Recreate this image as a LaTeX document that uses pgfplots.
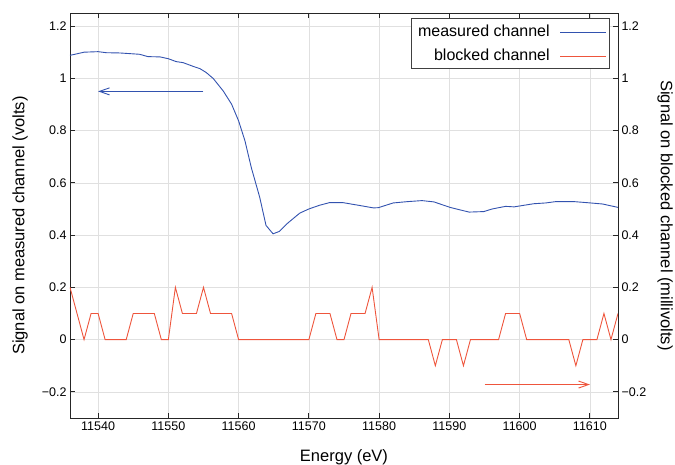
\documentclass[border=0pt]{standalone}
\usepackage{fontspec}
\setmainfont{Liberation Sans}
\usepackage{pgfplots}
\pgfplotsset{compat=1.18}
\usetikzlibrary{arrows.meta}
\definecolor{mblue}{RGB}{50,82,175}
\definecolor{bred}{RGB}{238,85,60}
\definecolor{gridc}{RGB}{224,224,224}

\begin{document}
\begin{tikzpicture}
\pgfplotsset{
 common/.style={
  scale only axis, width=548pt, height=405pt,
  xmin=11536, xmax=11614, ymin=-0.3, ymax=1.25,
  at={(0,0)}, anchor=south west,
  ytick={-0.2,0,0.2,0.4,0.6,0.8,1,1.2},
  yticklabels={−0.2,0,0.2,0.4,0.6,0.8,1,1.2},
  tick label style={font=\fontsize{12.5}{14}\selectfont},
  label style={font=\fontsize{16.5}{19}\selectfont},
  axis line style={line width=0.9pt, black!85},
  every tick/.style={line width=0.9pt, black!85},
  major tick length=5pt,
  tick align=inside,
 }
}
\path[use as bounding box] (-70pt,-47pt) rectangle (605pt,418pt);
\begin{axis}[common,
 xtick={11540,11550,11560,11570,11580,11590,11600,11610},
 xticklabels={11540,11550,11560,11570,11580,11590,11600,11610},
 xtick scale label code/.code={},
 xtick pos=both, ytick pos=left,
 grid=major, major grid style={gridc, line width=0.6pt},
 xlabel={Energy (eV)},
 ylabel={Signal on measured channel (volts)},
 xlabel style={at={(axis description cs:0.5,-0.0963)}, anchor=center},
 ylabel style={at={(axis description cs:-0.0912,0.475)}, anchor=center},
]
\addplot[draw=mblue, line width=0.9pt] coordinates {
(11536.0,1.088) (11536.7,1.092) (11538.0,1.100) (11540.0,1.102) (11541.2,1.098)
(11543.1,1.097) (11545.9,1.092) (11547.1,1.083) (11548.8,1.082) (11550.0,1.075)
(11551.1,1.064) (11552.1,1.060) (11553.5,1.046) (11554.5,1.037) (11555.4,1.022)
(11556.4,0.999) (11557.8,0.952) (11559.0,0.901) (11560.0,0.837) (11560.9,0.761)
(11561.8,0.659) (11563.0,0.545) (11563.9,0.437) (11564.9,0.405) (11565.8,0.414)
(11567.0,0.446) (11568.7,0.484) (11570.0,0.500) (11571.5,0.514) (11572.9,0.524)
(11574.9,0.524) (11577.3,0.513) (11579.2,0.504) (11579.9,0.505) (11582.0,0.523)
(11584.0,0.528) (11586.1,0.532) (11587.8,0.527) (11590.1,0.506) (11592.8,0.488)
(11594.9,0.490) (11596.1,0.500) (11598.0,0.510) (11599.2,0.508) (11600.6,0.514)
(11602.0,0.520) (11603.7,0.523) (11605.1,0.528) (11607.8,0.528) (11610.1,0.523)
(11611.8,0.519) (11614.0,0.506)
};
\addplot[draw=bred, line width=0.9pt] coordinates {
(11536,0.2) (11538,0) (11539,0.1) (11540,0.1) (11541,0) (11544,0) (11545,0.1)
(11548,0.1) (11549,0) (11550,0) (11551,0.2) (11552,0.1) (11554,0.1) (11555,0.2)
(11556,0.1) (11559,0.1) (11560,0) (11570,0) (11571,0.1) (11573,0.1) (11574,0)
(11575,0) (11576,0.1) (11578,0.1) (11579,0.2) (11580,0) (11587,0) (11588,-0.1)
(11589,0) (11591,0) (11592,-0.1) (11593,0) (11597,0) (11598,0.1) (11600,0.1)
(11601,0) (11607,0) (11608,-0.1) (11609,0) (11611,0) (11612,0.1) (11613,0)
(11614,0.1)
};
\draw[mblue, line width=0.9pt, -{Straight Barb[length=10pt,width=7pt]}] (axis cs:11555,0.95) -- (axis cs:11540,0.95);
\draw[bred, line width=0.9pt, -{Straight Barb[length=10pt,width=7pt]}] (axis cs:11595,-0.172) -- (axis cs:11610,-0.172);
\node[draw=black!75, line width=0.6pt, fill=white, inner xsep=4pt, inner ysep=7pt,
  anchor=north east, xshift=-8pt, yshift=-5pt, font=\fontsize{16}{18}\selectfont]
  (leg) at (rel axis cs:1,1)
  {\vbox{\baselineskip=24pt
   \hbox to 190pt{\hfill measured channel\hspace{56pt}}
   \hbox to 190pt{\hfill blocked channel\hspace{56pt}}}};
\draw[mblue, line width=0.9pt] ([xshift=-50pt,yshift=-14pt]leg.north east) -- ([xshift=-4pt,yshift=-14pt]leg.north east);
\draw[bred, line width=0.9pt] ([xshift=-50pt,yshift=-38pt]leg.north east) -- ([xshift=-4pt,yshift=-38pt]leg.north east);
\end{axis}
\begin{axis}[common,
 axis x line=none, axis y line*=right,
 ylabel={Signal on blocked channel (millivolts)},
 ylabel style={at={(axis description cs:1.0858,0.5)}, anchor=center, rotate=180},
]
\end{axis}
\end{tikzpicture}
\end{document}
